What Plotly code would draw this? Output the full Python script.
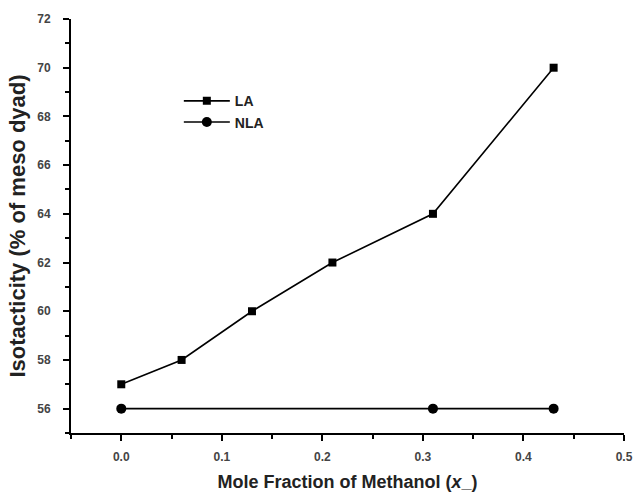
import plotly.graph_objects as go

# Mole fraction of methanol and isotacticity values
la_x = [0.0, 0.06, 0.13, 0.21, 0.31, 0.43]
la_y = [57, 58, 60, 62, 64, 70]
nla_x = [0.0, 0.31, 0.43]
nla_y = [56, 56, 56]

x_ticks = [0.0, 0.1, 0.2, 0.3, 0.4, 0.5]
x_tick_text = ["0.0", "0.1", "0.2", "0.3", "0.4", "0.5"]
y_ticks = [56, 58, 60, 62, 64, 66, 68, 70, 72]

FONT = "Liberation Sans, Arial, sans-serif"

fig = go.Figure()
fig.add_trace(go.Scatter(
    x=la_x, y=la_y, name="LA", mode="lines+markers",
    line=dict(color="black", width=1.6),
    marker=dict(symbol="square", size=8, color="black"),
))
fig.add_trace(go.Scatter(
    x=nla_x, y=nla_y, name="NLA", mode="lines+markers",
    line=dict(color="black", width=1.6),
    marker=dict(symbol="circle", size=10, color="black"),
))

axis_common = dict(
    showgrid=False, zeroline=False, showline=True,
    linecolor="black", linewidth=2,
    ticks="outside", ticklen=6, tickwidth=2, tickcolor="black",
    tickfont=dict(family=FONT, size=12, color="#444444", weight="bold"),
    automargin=False,
)

fig.update_layout(
    width=634, height=492,
    margin=dict(l=71, r=10, t=19, b=59),
    paper_bgcolor="white", plot_bgcolor="white",
    font=dict(family=FONT, color="#222222"),
    showlegend=True,
    legend=dict(
        x=0.195, y=0.84, xanchor="left", yanchor="top",
        bgcolor="rgba(0,0,0,0)",
        font=dict(family=FONT, size=14, color="#222222", weight="bold"),
        tracegroupgap=0, itemwidth=46,
    ),
    xaxis=dict(
        range=[-0.05, 0.5],
        tickvals=x_ticks, ticktext=x_tick_text,
        minor=dict(dtick=0.05, tick0=0.0, ticks="outside", ticklen=4,
                   tickwidth=2, tickcolor="black"),
        ticklabelstandoff=6,
        title=dict(text="Mole Fraction of Methanol (<i>x</i>_)",
                   font=dict(family=FONT, size=18, color="#222222", weight="bold"),
                   standoff=12),
        **axis_common,
    ),
    yaxis=dict(
        range=[55, 72],
        tickvals=y_ticks,
        minor=dict(dtick=1, tick0=55, ticks="outside", ticklen=4,
                   tickwidth=2, tickcolor="black"),
        ticklabelstandoff=10,
        title=dict(text="Isotacticity (% of meso dyad)",
                   font=dict(family=FONT, size=22, color="#222222", weight="bold"),
                   standoff=6),
        **axis_common,
    ),
)

fig.write_html("out.html")
